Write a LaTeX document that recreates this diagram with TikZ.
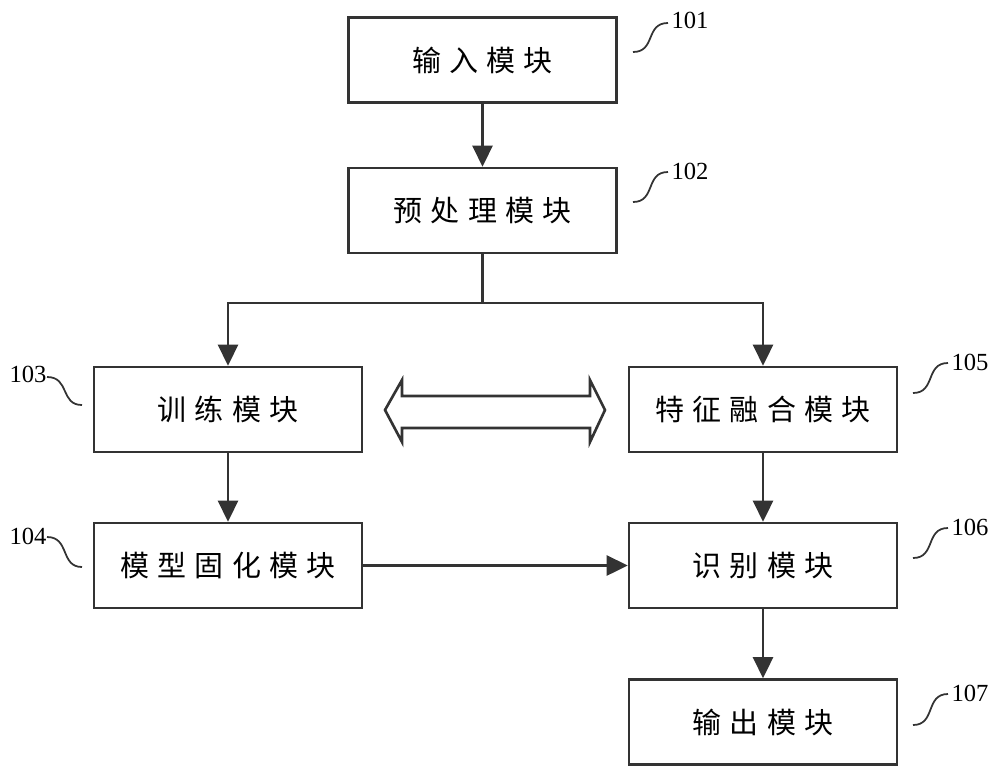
\documentclass[tikz,border=0pt]{standalone}
\usepackage{fontspec}
\setmainfont{Liberation Serif}
\newfontfamily\cjk[LetterSpace=28]{Noto Sans CJK SC}
\usetikzlibrary{arrows.meta}
\begin{document}
\begin{tikzpicture}[x=0.02cm,y=-0.02cm,line width=1.5pt,
  modbox/.style={draw=black!80,minimum width=5.36cm,minimum height=1.7cm,font=\cjk\fontsize{16.5}{16.5}\selectfont},
  arr/.style={draw=black!80,-{Triangle[length=0.42cm,width=0.4cm]}},
  tag/.style={font=\fontsize{14}{14}\selectfont},
  wave/.style={draw=black!80,line width=1pt}]
\useasboundingbox(0,0)rectangle(1000,778);
\node[modbox](inp)at(482.5,60){输入模块};
\node[modbox](pre)at(482.5,210.5){预处理模块};
\node[modbox](train)at(228,409.5){训练模块};
\node[modbox](fuse)at(763,409.5){特征融合模块};
\node[modbox](fix)at(228,565.5){模型固化模块};
\node[modbox](recog)at(763,565.5){识别模块};
\node[modbox](outp)at(763,722){输出模块};
\coordinate(split)at(482.5,303);
\draw[arr](inp)--(pre);
\draw[draw=black!80](pre.south)--(split);
\draw[arr](split)-|(train.north);
\draw[arr](split)-|(fuse.north);
\draw[arr](train)--(fix);
\draw[arr](fuse)--(recog);
\draw[arr](fix)--(recog);
\draw[arr](recog)--(outp);
\draw[draw=black!80](385,410)--(402,380)--(402,396)--(590,396)--(590,380)--(605,410)
  --(590,442)--(590,428)--(402,428)--(402,442)--cycle;
\node[tag](t101)at(690,20){101};
\draw[wave](633,52)..controls(656,52)and(645,23)..(668,23);
\node[tag](t102)at(690,171){102};
\draw[wave](633,202)..controls(656,202)and(645,172)..(668,172);
\node[tag](t103)at(28,374){103};
\draw[wave](47,377)..controls(70,377)and(60,405)..(82,405);
\node[tag](t104)at(28,536){104};
\draw[wave](47,537)..controls(70,537)and(60,567)..(82,567);
\node[tag](t105)at(970,362){105};
\draw[wave](913,393)..controls(936,393)and(925,363)..(948,363);
\node[tag](t106)at(970,527){106};
\draw[wave](913,558)..controls(936,558)and(925,528)..(948,528);
\node[tag](t107)at(970,693){107};
\draw[wave](913,725)..controls(936,725)and(925,694)..(948,694);
\end{tikzpicture}
\end{document}
